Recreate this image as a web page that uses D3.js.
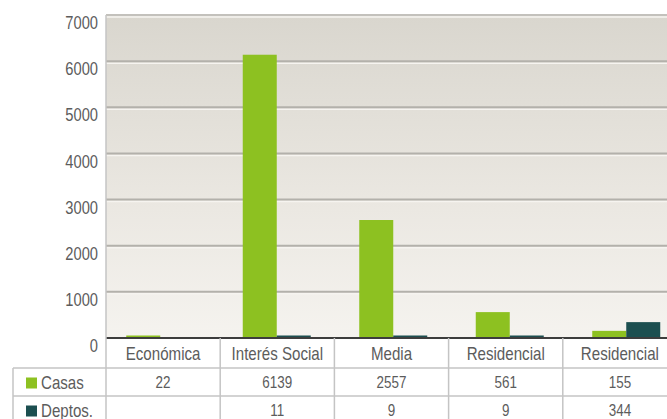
<!DOCTYPE html>
<html>
<head>
<meta charset="utf-8">
<script src="https://cdn.jsdelivr.net/npm/d3@7"></script>
<style>
  body { margin: 0; background: #fff; }
  text { font-family: "Liberation Sans", Arial, sans-serif; fill: #5c5c5c; }
</style>
</head>
<body>
<div class="graph"></div>
<script>
var categories = ["Económica", "Interés Social", "Media", "Residencial", "Residencial"];
var seriesNames = ["Casas", "Deptos."];
var casas = [22, 6139, 2557, 561, 155];
var deptos = [null, 11, 9, 9, 344];
var yTicks = [0, 1000, 2000, 3000, 4000, 5000, 6000, 7000];
var colors = ["#8dc121", "#1c4f50"];

var W = 667, H = 419;
var plotLeft = 106, plotTop = 15, zeroY = 338;
var rowTop = [338, 368, 396, 424];
var squeeze = 0.84;   // narrow look of the original lettering

var svg = d3.select(".graph")
   .append("svg")
   .attr("width", W)
   .attr("height", H);

// places a text at (x, y) squeezed sideways
function place(x, y){
   return "translate(" + x + "," + y + ") scale(" + squeeze + ",1)";
}

var defs = svg.append("defs");
var grad = defs.append("linearGradient")
   .attr("id", "bg")
   .attr("x1", 0).attr("x2", 0).attr("y1", 0).attr("y2", 1);
grad.append("stop").attr("offset", "0%").attr("stop-color", "#d9d6ce");
grad.append("stop").attr("offset", "60%").attr("stop-color", "#ebe8e2");
grad.append("stop").attr("offset", "100%").attr("stop-color", "#f5f3ef");

var y = d3.scaleLinear().domain([0, 7000]).range([zeroY, plotTop]);

// bar groups sit on a slightly wider step than the table columns
var x0 = d3.scaleBand().domain(d3.range(categories.length)).range([102, 684.5]);
var x1 = d3.scaleBand().domain(d3.range(seriesNames.length))
   .range([x0.bandwidth() / 2 - 34, x0.bandwidth() / 2 + 34]);
// table columns
var xt = d3.scaleBand().domain(d3.range(categories.length)).range([plotLeft, plotLeft + 114.2 * 5]);

// plot background
svg.append("rect")
   .attr("x", plotLeft)
   .attr("y", plotTop)
   .attr("width", W - plotLeft)
   .attr("height", zeroY - plotTop)
   .attr("fill", "url(#bg)");

// gridlines
var grid = svg.selectAll(".grid")
   .data(yTicks.filter(function(d){ return d > 0; }))
   .enter();
grid.append("line")
   .attr("x1", plotLeft).attr("x2", W)
   .attr("y1", function(d){ return y(d) + 2; })
   .attr("y2", function(d){ return y(d) + 2; })
   .attr("stroke", "#f6f4f0")
   .attr("stroke-width", 1.5);
grid.append("line")
   .attr("x1", plotLeft).attr("x2", W)
   .attr("y1", function(d){ return y(d); })
   .attr("y2", function(d){ return y(d); })
   .attr("stroke", "#b3b1ab")
   .attr("stroke-width", 2);

// tick labels
svg.selectAll(".tick")
   .data(yTicks)
   .enter()
   .append("text")
   .attr("transform", function(d){ return place(98, y(d) + 8); })
   .attr("dy", "0.35em")
   .attr("text-anchor", "end")
   .attr("font-size", "17.5px")
   .text(function(d){ return d; });

// bars
var series = [casas, deptos];
var group = svg.selectAll(".group")
   .data(categories)
   .enter()
   .append("g")
   .attr("transform", function(d, i){ return "translate(" + x0(i) + ",0)"; });

group.selectAll("rect")
   .data(function(d, i){
      return series.map(function(s, k){ return { k: k, v: s[i] }; })
                   .filter(function(e){ return e.v != null; });
   })
   .enter()
   .append("rect")
   .attr("x", function(d){ return x1(d.k); })
   .attr("width", x1.bandwidth())
   .attr("y", function(d){ return Math.min(y(d.v), zeroY - 2.5); })
   .attr("height", function(d){ return zeroY - Math.min(y(d.v), zeroY - 2.5); })
   .attr("fill", function(d){ return colors[d.k]; });

// zero line
svg.append("line")
   .attr("x1", plotLeft).attr("x2", W)
   .attr("y1", zeroY).attr("y2", zeroY)
   .attr("stroke", "#3d3d3d")
   .attr("stroke-width", 2);

// table lines
var lineColor = "#c4c4c4";
svg.append("line")
   .attr("x1", plotLeft).attr("x2", plotLeft)
   .attr("y1", plotTop).attr("y2", H)
   .attr("stroke", lineColor).attr("stroke-width", 1.5);
svg.append("line")
   .attr("x1", plotLeft).attr("x2", W)
   .attr("y1", plotTop).attr("y2", plotTop)
   .attr("stroke", "#c9c7c2").attr("stroke-width", 1.5);
svg.selectAll(".col")
   .data(d3.range(1, categories.length))
   .enter()
   .append("line")
   .attr("x1", function(d){ return xt(d); })
   .attr("x2", function(d){ return xt(d); })
   .attr("y1", zeroY).attr("y2", H)
   .attr("stroke", lineColor).attr("stroke-width", 1.5);
svg.selectAll(".row")
   .data([rowTop[1], rowTop[2]])
   .enter()
   .append("line")
   .attr("x1", 13).attr("x2", W)
   .attr("y1", function(d){ return d; })
   .attr("y2", function(d){ return d; })
   .attr("stroke", lineColor).attr("stroke-width", 1.5);
svg.append("line")
   .attr("x1", 13).attr("x2", 13)
   .attr("y1", rowTop[1]).attr("y2", H)
   .attr("stroke", lineColor).attr("stroke-width", 1.5);

// header row
svg.selectAll(".cat")
   .data(categories)
   .enter()
   .append("text")
   .attr("transform", function(d, i){
      return place(xt(i) + xt.bandwidth() / 2, (rowTop[0] + rowTop[1]) / 2 + 1);
   })
   .attr("dy", "0.35em")
   .attr("text-anchor", "middle")
   .attr("font-size", "18px")
   .text(function(d){ return d; });

// legend + value rows
series.forEach(function(s, k){
   var cy = (rowTop[k + 1] + rowTop[k + 2]) / 2 + 0.5;
   svg.append("rect")
      .attr("x", 26).attr("y", cy - 5)
      .attr("width", 11).attr("height", 11)
      .attr("fill", colors[k]);
   svg.append("text")
      .attr("transform", place(41, cy))
      .attr("dy", "0.35em")
      .attr("font-size", "18px")
      .text(seriesNames[k]);
   svg.selectAll(".val" + k)
      .data(s)
      .enter()
      .append("text")
      .attr("transform", function(d, i){ return place(xt(i) + xt.bandwidth() / 2, cy); })
      .attr("dy", "0.35em")
      .attr("text-anchor", "middle")
      .attr("font-size", "16px")
      .text(function(d){ return d == null ? "" : d; });
});
</script>
</body>
</html>
